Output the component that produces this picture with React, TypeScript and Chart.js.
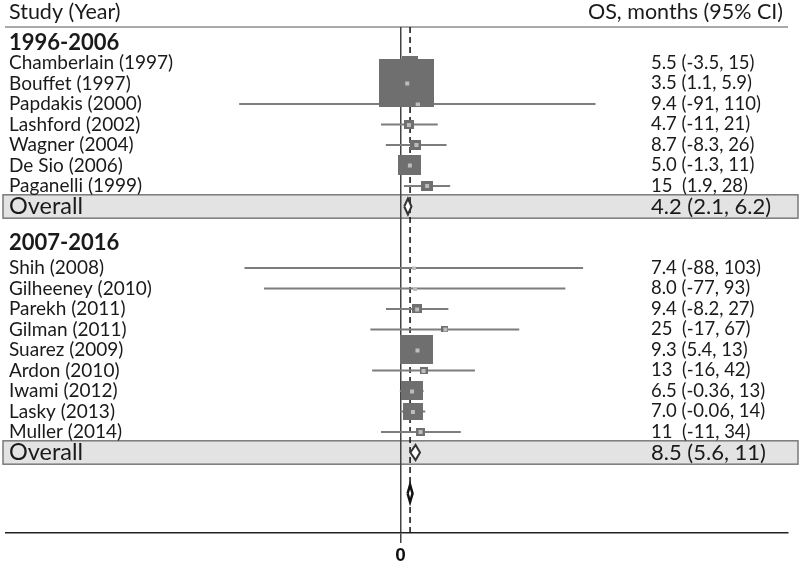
import React, { useEffect, useRef } from "react";
import { Chart, registerables } from "chart.js";

Chart.register(...registerables);

// ---------- data ----------
const headerLeft = "Study (Year)";
const headerRight = "OS, months (95% CI)";
const groupLabels = ["1996-2006", "2007-2016"];

const group1Studies = ["Chamberlain (1997)", "Bouffet (1997)", "Papdakis (2000)", "Lashford (2002)", "Wagner (2004)", "De Sio (2006)", "Paganelli (1999)"];
const group1Est = [5.5, 3.5, 9.4, 4.7, 8.7, 5.0, 15];
const group1Lo = [-3.5, 1.1, -91, -11, -8.3, -1.3, 1.9];
const group1Hi = [15, 5.9, 110, 21, 26, 11, 28];
const group1Weights = [6.1, 72.3, 0.2, 2.4, 2.9, 12.6, 3.4];
const group1Overall = [4.2, 2.1, 6.2];

const group2Studies = ["Shih (2008)", "Gilheeney (2010)", "Parekh (2011)", "Gilman (2011)", "Suarez (2009)", "Ardon (2010)", "Iwami (2012)", "Lasky (2013)", "Muller (2014)"];
const group2Est = [7.4, 8.0, 9.4, 25, 9.3, 13, 6.5, 7.0, 11];
const group2Lo = [-88, -77, -8.2, -17, 5.4, -16, -0.36, -0.06, -11];
const group2Hi = [103, 93, 27, 67, 13, 42, 13, 14, 34];
const group2Weights = [0.2, 0.2, 2.4, 1.2, 26.0, 1.5, 11.6, 9.6, 1.9];
const group2Overall = [8.5, 5.6, 11];

const totalOverall = [5.4, 4.0, 6.8];
const overallLabel = "Overall";
const xTickValues = [0];

// ---------- layout helpers ----------
const FONT = "Lato, 'DejaVu Sans', sans-serif";
const Y_MIN = -1.756;
const Y_MAX = 22.927;
const X_MIN = -222.54;
const X_MAX = 218.59;

const g1Rows = group1Studies.map((_, i) => i);
const g1OverallRow = 7;
const g1HeaderRow = -1.0;
const g2Rows = group2Studies.map((_, i) => 10 + i);
const g2OverallRow = 19;
const g2HeaderRow = 8.8;
const totalRow = 21;

const fmtEst = (v: number) => (Math.abs(v) >= 10 ? String(v) + " " : v.toFixed(1));
const ciText = (e: number, lo: number, hi: number) => `${fmtEst(e)} (${lo}, ${hi})`;

function makeBox(weight: number): HTMLCanvasElement {
  const w = Math.max(3, Math.round(Math.sqrt(weight) * 6.47));
  const h = Math.max(3, Math.round(w * 0.87));
  const cw = Math.max(w, 5);
  const ch = Math.max(h, 5);
  const c = document.createElement("canvas");
  c.width = cw;
  c.height = ch;
  const g = c.getContext("2d")!;
  g.fillStyle = "#6f6f6f";
  g.fillRect((cw - w) / 2, (ch - h) / 2, w, h);
  g.fillStyle = "#bdbdbd";
  const s = 4;
  g.fillRect(Math.round((cw - s) / 2), Math.round((ch - s) / 2), s, s);
  return c;
}

function diamond(o: number[], row: number, half: number) {
  return [
    { x: o[1], y: row },
    { x: o[0], y: row - half },
    { x: o[2], y: row },
    { x: o[0], y: row + half },
    { x: o[1], y: row },
  ];
}

export default function App() {
  const ref = useRef<HTMLCanvasElement | null>(null);

  useEffect(() => {
    let chart: Chart | null = null;
    let cancelled = false;

    const build = () => {
      if (cancelled || !ref.current) return;

      const allEst = [...group1Est, ...group2Est];
      const allLo = [...group1Lo, ...group2Lo];
      const allHi = [...group1Hi, ...group2Hi];
      const allRows = [...g1Rows, ...g2Rows];
      const allWeights = [...group1Weights, ...group2Weights];
      const boxes = allWeights.map(makeBox);

      const ciData: any[] = [];
      allEst.forEach((_, i) => {
        ciData.push({ x: allLo[i], y: allRows[i] });
        ciData.push({ x: allHi[i], y: allRows[i] });
        ciData.push({ x: allHi[i], y: null });
      });

      const textPlugin = {
        id: "forestText",
        beforeDraw(c: any) {
          const ctx = c.ctx as CanvasRenderingContext2D;
          const ys = c.scales.y;
          const py = (v: number) => ys.getPixelForValue(v);
          ctx.save();
          [g1OverallRow, g2OverallRow].forEach((r) => {
            const top = py(r - 0.57);
            const bot = py(r + 0.57);
            ctx.fillStyle = "#e3e3e3";
            ctx.fillRect(3, top, 795, bot - top);
            ctx.strokeStyle = "#7a7a7a";
            ctx.lineWidth = 1.5;
            ctx.strokeRect(3, top, 795, bot - top);
          });
          ctx.strokeStyle = "#8c8c8c";
          ctx.lineWidth = 1.5;
          ctx.beginPath();
          ctx.moveTo(5, c.chartArea.top);
          ctx.lineTo(788, c.chartArea.top);
          ctx.stroke();
          ctx.restore();
        },
        afterDraw(c: any) {
          const ctx = c.ctx as CanvasRenderingContext2D;
          const ys = c.scales.y;
          const py = (v: number) => ys.getPixelForValue(v);
          ctx.save();
          ctx.fillStyle = "#1a1a1a";
          ctx.textBaseline = "middle";
          ctx.font = `21.5px ${FONT}`;
          ctx.textAlign = "left";
          ctx.fillText(headerLeft, 9, 12);
          ctx.textAlign = "right";
          ctx.fillText(headerRight, 783, 12);
          ctx.textAlign = "left";
          ctx.font = `bold 22px ${FONT}`;
          ctx.fillText(groupLabels[0], 9, py(g1HeaderRow));
          ctx.fillText(groupLabels[1], 9, py(g2HeaderRow));
          group1Studies.forEach((s, i) => {
            ctx.font = `19px ${FONT}`;
            ctx.fillText(s, 9, py(g1Rows[i]));
            ctx.font = `18.5px ${FONT}`;
            ctx.fillText(ciText(group1Est[i], group1Lo[i], group1Hi[i]), 651, py(g1Rows[i]));
          });
          group2Studies.forEach((s, i) => {
            ctx.font = `19px ${FONT}`;
            ctx.fillText(s, 9, py(g2Rows[i]));
            ctx.font = `18.5px ${FONT}`;
            ctx.fillText(ciText(group2Est[i], group2Lo[i], group2Hi[i]), 651, py(g2Rows[i]));
          });
          ctx.font = `23.5px ${FONT}`;
          ctx.fillText(overallLabel, 9, py(g1OverallRow));
          ctx.fillText(overallLabel, 9, py(g2OverallRow));
          ctx.font = `22px ${FONT}`;
          ctx.fillText(ciText(group1Overall[0], group1Overall[1], group1Overall[2]).replace("  ", " "), 651, py(g1OverallRow));
          ctx.fillText(ciText(group2Overall[0], group2Overall[1], group2Overall[2]).replace("  ", " "), 651, py(g2OverallRow));
          ctx.restore();
        },
      };

      chart = new Chart(ref.current, {
        type: "line",
        data: {
          datasets: [
            {
              label: "reference",
              data: [
                { x: totalOverall[0], y: Y_MIN },
                { x: totalOverall[0], y: Y_MAX },
              ],
              borderColor: "#111",
              borderWidth: 1.5,
              borderDash: [6, 4],
              pointRadius: 0,
              order: 10,
            },
            {
              label: "ci",
              data: ciData,
              borderColor: "#7d7d7d",
              borderWidth: 2,
              pointRadius: 0,
              spanGaps: false,
              order: 5,
            },
            {
              label: "estimates",
              data: allEst.map((e, i) => ({ x: e, y: allRows[i] })),
              showLine: false,
              pointStyle: (ctx: any) => boxes[ctx.dataIndex],
              pointRadius: 5,
              order: 2,
            },
            {
              label: "overall1",
              data: diamond(group1Overall, g1OverallRow, 0.39),
              borderColor: "#333",
              backgroundColor: "#ffffff",
              borderWidth: 2,
              fill: "shape",
              pointRadius: 0,
              order: 1,
            },
            {
              label: "overall2",
              data: diamond(group2Overall, g2OverallRow, 0.37),
              borderColor: "#333",
              backgroundColor: "#ffffff",
              borderWidth: 2,
              fill: "shape",
              pointRadius: 0,
              order: 1,
            },
            {
              label: "overallAll",
              data: diamond(totalOverall, totalRow, 0.42),
              borderColor: "#111",
              backgroundColor: "#ffffff",
              borderWidth: 2.5,
              fill: "shape",
              pointRadius: 0,
              order: 0,
            },
          ],
        },
        options: {
          responsive: false,
          animation: false,
          devicePixelRatio: 1,
          layout: { padding: { top: 27, left: 5, right: 12, bottom: 0 } },
          plugins: { legend: { display: false }, tooltip: { enabled: false } },
          elements: { line: { tension: 0 } },
          scales: {
            x: {
              type: "linear",
              min: X_MIN,
              max: X_MAX,
              afterBuildTicks: (s: any) => {
                s.ticks = xTickValues.map((v) => ({ value: v }));
              },
              afterFit: (s: any) => {
                s.height = 29;
              },
              ticks: {
                padding: 1,
                color: "#111",
                font: { family: "Arial, 'Liberation Sans', sans-serif", size: 19, weight: "bold" },
                callback: (v: any) => String(v),
              },
              grid: {
                drawOnChartArea: true,
                drawTicks: true,
                tickLength: 10,
                lineWidth: 1.5,
                color: (ctx: any) => (ctx.tick && ctx.tick.value === 0 ? "#444" : "transparent"),
              },
              border: { display: true, color: "#222", width: 1.5 },
            },
            y: {
              type: "linear",
              display: false,
              reverse: true,
              min: Y_MIN,
              max: Y_MAX,
            },
          },
        },
        plugins: [textPlugin],
      } as any);
    };

    const fontsReady = (document as any).fonts
      ? Promise.all([
          (document as any).fonts.load(`18px Lato`),
          (document as any).fonts.load(`bold 22px Lato`),
          (document as any).fonts.load(`bold 19px 'Liberation Sans'`),
        ]).catch(() => null)
      : Promise.resolve(null);
    fontsReady.then(build);

    return () => {
      cancelled = true;
      if (chart) chart.destroy();
    };
  }, []);

  return (
    <div style={{ position: "fixed", left: 0, top: 0, width: 800, height: 562, background: "#fff" }}>
      <canvas ref={ref} width={800} height={562} style={{ display: "block", width: 800, height: 562 }} />
    </div>
  );
}
